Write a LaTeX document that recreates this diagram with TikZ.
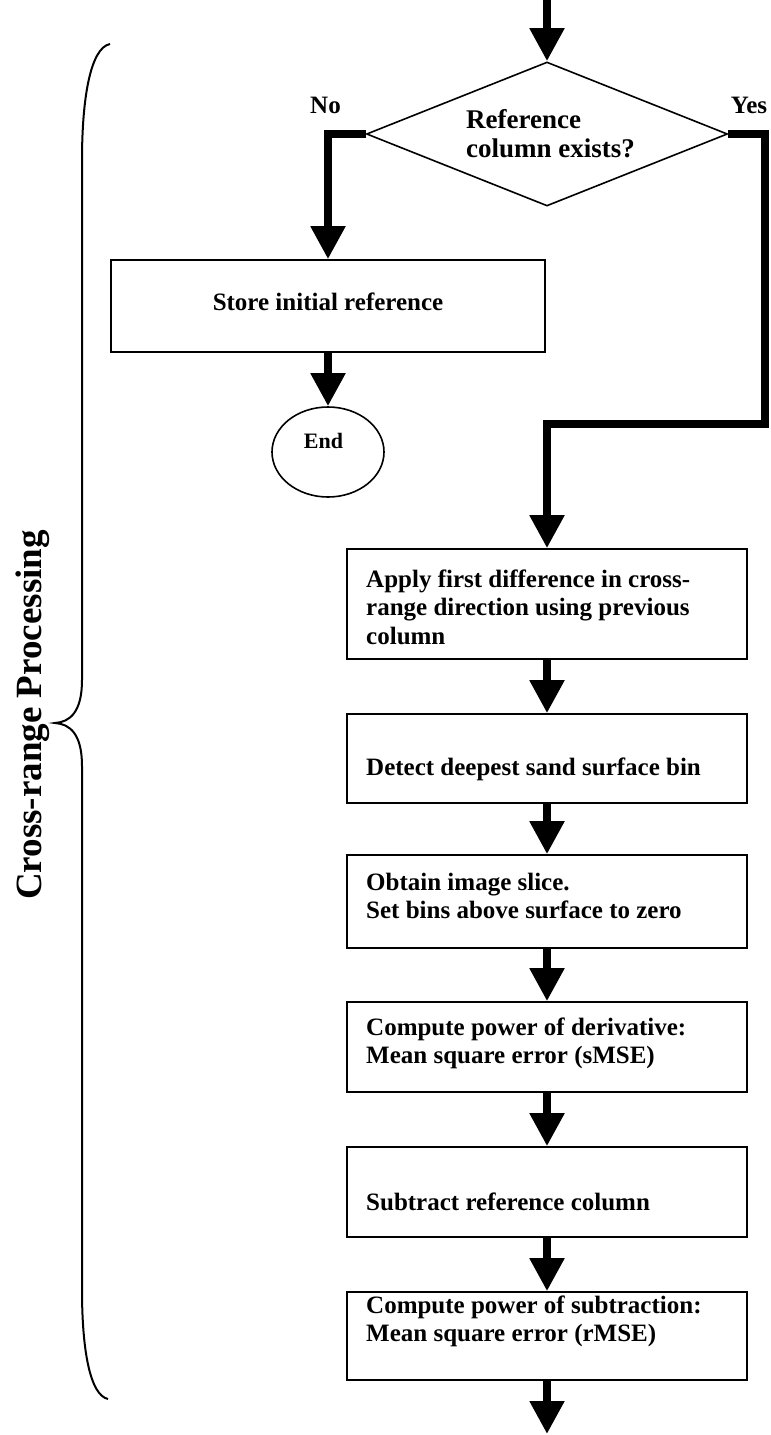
\documentclass[tikz,border=0pt]{standalone}
\usepackage{fontspec}
\setmainfont{Liberation Serif}
\usetikzlibrary{arrows.meta,shapes.geometric}
\begin{document}
\begin{tikzpicture}[x=1pt,y=-1pt,
  box/.style={draw, line width=1.6pt, inner sep=0pt, minimum width=400pt},
  flow/.style={line width=8pt, -{Triangle[length=33pt 0 0, width=33pt 0 0]}},
  lbl/.style={font=\fontsize{25}{28.5}\selectfont\bfseries, inner sep=0pt, align=left, anchor=north west},
  tag/.style={font=\fontsize{25}{28.5}\selectfont\bfseries, inner sep=0pt, anchor=base},
]
\useasboundingbox (0,0) rectangle (771,1435);

% decision
\coordinate (start) at (547,0);
\node[diamond, draw, line width=1.6pt, inner sep=0pt, minimum width=361pt, minimum height=144pt] (dec) at (547,134) {};
\node[lbl, font=\fontsize{27}{29}\selectfont\bfseries] (tdec) at (466,107.7) {\strut Reference\\column exists?};
\node[tag] (tno) at (325.5,113) {No};
\node[tag] (tyes) at (749,113) {Yes};

% "No" branch
\node[box, minimum width=434pt, minimum height=92pt] (store) at (328,306) {};
\node[tag] (tstore) at (328,310) {Store initial reference};
\node[ellipse, draw, line width=1.6pt, inner sep=0pt, minimum width=112pt, minimum height=90pt] (stop) at (328,452) {};
\node[tag, font=\fontsize{22}{26}\selectfont\bfseries] (tstop) at (323.5,448) {End};

% "Yes" branch: processing chain
\node[box, minimum height=110pt] (apply)  at (547,604)    {};
\node[box, minimum height=89pt]  (detect) at (547,758.5)  {};
\node[box, minimum height=93pt]  (obtain) at (547,901.5)  {};
\node[box, minimum height=90pt]  (comp1)  at (547,1047)   {};
\node[box, minimum height=90pt]  (subtr)  at (547,1192)   {};
\node[box, minimum height=88pt]  (comp2)  at (547,1336)   {};

\node[lbl] (t1) at (366,567.05)  {\strut Apply first difference in cross-\\range direction using previous\\column};
\node[lbl] (t2) at (366,755.05)  {\strut Detect deepest sand surface bin};
\node[lbl] (t3) at (366,870.05)  {\strut Obtain image slice.\\Set bins above surface to zero};
\node[lbl] (t4) at (366,1015.05) {\strut Compute power of derivative:\\Mean square error (sMSE)};
\node[lbl] (t5) at (366,1190.05) {\strut Subtract reference column};
\node[lbl] (t6) at (366,1293.05) {\strut Compute power of subtraction:\\Mean square error (rMSE)};

% connectors
\coordinate (yesR) at (765,424);
\coordinate (exit) at (547,1434);
\draw[flow] (start) -- (dec.north);
\draw[flow] (dec.west) -| (store.north);
\draw[flow] (store.south) -- (stop.north);
\draw[flow] (dec.east) -| (yesR) -| (apply.north);
\draw[flow] (apply.south) -- (detect.north);
\draw[flow] (detect.south) -- (obtain.north);
\draw[flow] (obtain.south) -- (comp1.north);
\draw[flow] (comp1.south) -- (subtr.north);
\draw[flow] (subtr.south) -- (comp2.north);
\draw[flow] (comp2.south) -- (exit);

% side brace and its label
\draw[line width=2pt]
  (110,44) .. controls (90,48) and (82,100) .. (82,160)
  -- (82,680) .. controls (82,712) and (70,722) .. (55,723)
  .. controls (70,724) and (82,734) .. (82,766)
  -- (82,1290) .. controls (82,1350) and (90,1395) .. (108,1399);
\node[font=\fontsize{37}{40}\selectfont\bfseries, rotate=90, inner sep=0pt] (side) at (33,715) {Cross-range Processing};
\end{tikzpicture}
\end{document}
